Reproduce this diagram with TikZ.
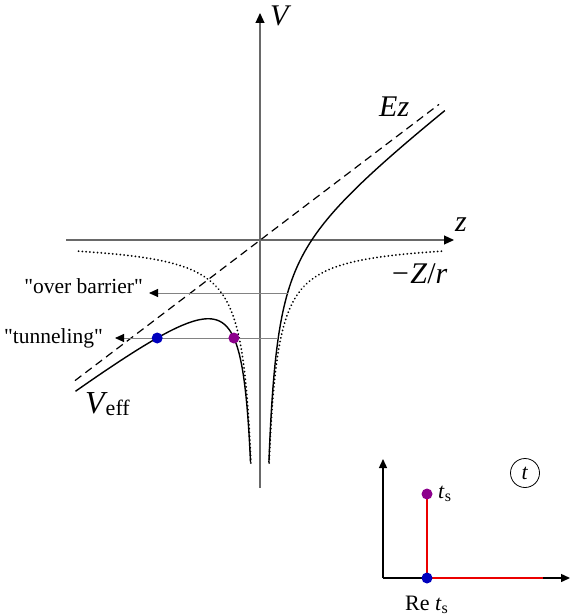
\documentclass[tikz,border=0pt]{standalone}
\usepackage{fontspec}
\setmainfont{Liberation Serif}
\usetikzlibrary{arrows.meta}
\definecolor{axgray}{RGB}{105,105,105}
\definecolor{hgray}{RGB}{130,130,130}
\definecolor{dotblue}{RGB}{0,0,190}
\definecolor{dotpurple}{RGB}{140,0,140}
\definecolor{pathred}{RGB}{235,0,0}
\newcommand{\sqt}{\XeTeXglyph\XeTeXglyphindex "quotedbl"\relax}
\begin{document}
\begin{tikzpicture}[x=1pt,y=-1pt,
  axisline/.style={draw=axgray,line width=1.1pt,-{Triangle[length=10pt,width=9pt,black]}},
  hline/.style={draw=hgray,line width=0.9pt,{Triangle[length=9pt,width=8pt,black]}-},
  curve/.style={draw=black,line width=1.4pt},
  dottedcurve/.style={draw=black,line width=2pt,dash pattern=on 0.01pt off 3.8pt,line cap=round},
  dashedline/.style={draw=black,line width=1.2pt,dash pattern=on 8pt off 5pt},
  inaxis/.style={draw=black,line width=1.4pt,-{Triangle[length=9pt,width=8pt]}},
  redpath/.style={draw=pathred,line width=2pt},
  bdot/.style={circle,fill=dotblue,inner sep=0pt,minimum size=11pt},
  pdot/.style={circle,fill=dotpurple,inner sep=0pt,minimum size=11pt},
  txt/.style={inner sep=0pt,font=\fontsize{21.5}{25}\selectfont},
  mlab/.style={inner sep=0pt,font=\fontsize{30}{34}\selectfont\itshape},
  itxt/.style={inner sep=0pt,font=\fontsize{22}{26}\selectfont}]
\useasboundingbox (0,0) rectangle (571,615);
% axes
\coordinate (O) at (260,240);
\coordinate (Vbot) at (260,488);
\coordinate (Vtop) at (260,13);
\coordinate (zleft) at (66,240);
\coordinate (zright) at (454,240);
\draw[axisline] (Vbot) -- (Vtop);
\draw[axisline] (zleft) -- (zright);
\node[mlab,anchor=base west] (Vlab) at (270,26) {V};
\node[mlab,anchor=base west] (zlab) at (455,231) {z};
% Ez line
\coordinate (Ea) at (75,380.6);
\coordinate (Eb) at (439,104.4);
\draw[dashedline] (Ea) -- (Eb);
\node[mlab,anchor=base west] (Ezlab) at (379,117) {Ez};
% -Z/r
\draw[dottedcurve] plot[domain=2.214:5.220,samples=160,smooth] ({260-exp(\x)},{240+2040/exp(\x)});
\draw[dottedcurve] plot[domain=2.214:5.220,samples=160,smooth] ({260+exp(\x)},{240+2040/exp(\x)});
\node[mlab,anchor=base west] (Zrlab) at (390,283) {\upshape\textit{−Z}/\textit{r}};
% V_eff
\draw[curve] plot[domain=2.251:5.220,samples=200,smooth] ({260-exp(\x)},{240+0.76*exp(\x)+2040/exp(\x)});
\draw[curve] plot[domain=2.186:5.220,samples=200,smooth] ({260+exp(\x)},{240-0.76*exp(\x)+2040/exp(\x)});
\node[inner sep=0pt,anchor=base west] (Vefflab) at (85,413) {\fontsize{32}{36}\selectfont\itshape V\kern1pt\raisebox{-2pt}{\fontsize{22}{25}\selectfont\upshape eff}};
% over barrier
\coordinate (obL) at (149,293);
\coordinate (obR) at (287.6,293);
\draw[hline] (obL) -- (obR);
\node[txt,anchor=base east] (oblab) at (143,293) {\sqt over barrier\sqt};
% tunneling
\coordinate (tuL) at (115,338);
\coordinate (tuR) at (278,338);
\draw[hline] (tuL) -- (tuR);
\node[txt,anchor=base east] (tulab) at (103,343) {\sqt tunneling\sqt};
\node[bdot] (exitpt) at (157.2,338) {};
\node[pdot] (entpt) at (233.9,338) {};
% inset
\coordinate (io) at (383,578);
\coordinate (iy) at (383,459);
\coordinate (ix) at (570,578);
\coordinate (tsc) at (427,494);
\coordinate (retc) at (427,578);
\coordinate (rend) at (543,578);
\draw[inaxis] (io) -- (iy);
\draw[inaxis] (io) -- (ix);
\draw[redpath] (tsc) -- (retc) -- (rend);
\node[pdot] (ts) at (tsc) {};
\node[bdot] (rets) at (retc) {};
\node[itxt,anchor=base west] (tslab) at (438,498) {\textit{t}\raisebox{-3pt}{\fontsize{16}{18}\selectfont s}};
\node[itxt,anchor=base west] (retslab) at (405,610) {Re \textit{t}\raisebox{-3pt}{\fontsize{16}{18}\selectfont s}};
\node[circle,draw=black,line width=0.8pt,minimum size=29pt,inner sep=0pt,itxt] (tcirc) at (525,473) {\textit{t}};
\end{tikzpicture}
\end{document}
